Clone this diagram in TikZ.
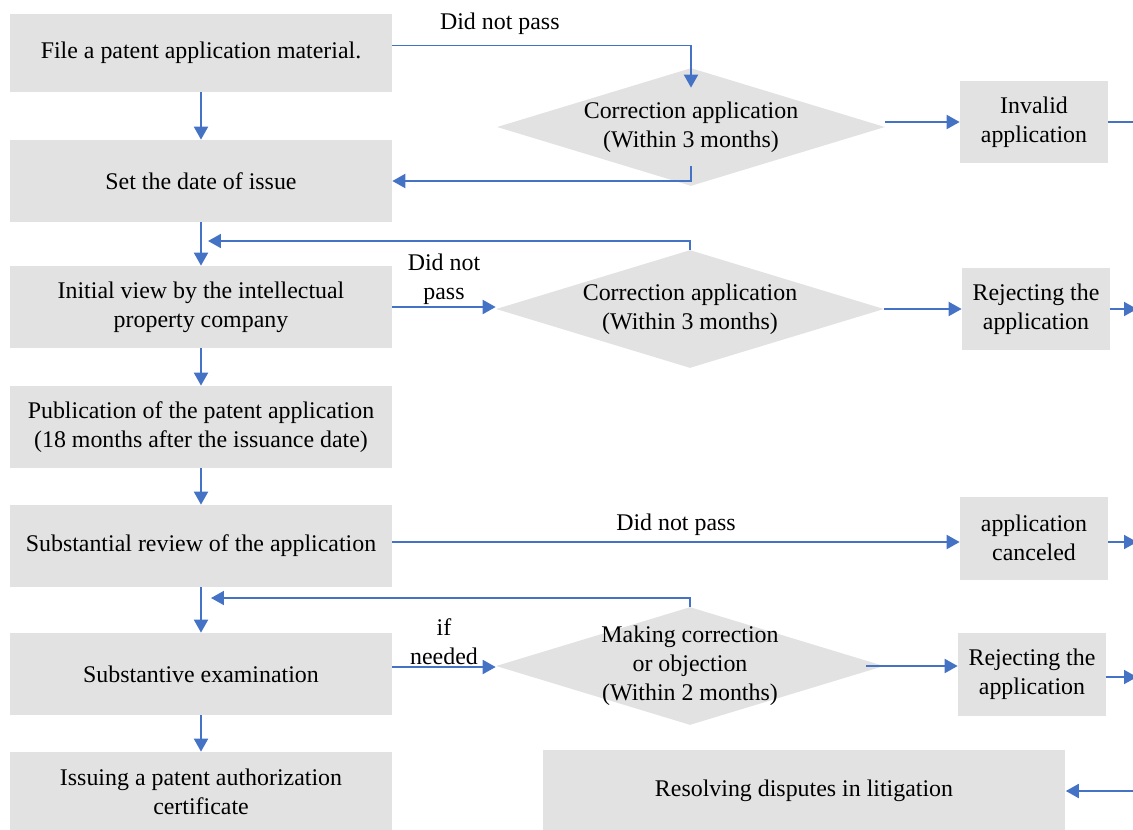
\documentclass[tikz,border=0pt]{standalone}
\usepackage{fontspec}
\setmainfont{Liberation Serif}
\usetikzlibrary{shapes.geometric,arrows.meta}
\definecolor{boxgray}{HTML}{E2E2E2}
\definecolor{flowblue}{HTML}{4472C4}

\begin{document}
\begin{tikzpicture}[x=0.02cm,y=-0.02cm,
    font=\fontsize{13.6}{16.4}\selectfont,
    box/.style={fill=boxgray,align=center,inner sep=0pt,minimum width=7.64cm,minimum height=1.64cm},
    sidebox/.style={fill=boxgray,align=center,inner sep=0pt,minimum width=2.96cm,minimum height=1.66cm},
    dia/.style={diamond,fill=boxgray,align=center,inner sep=0pt,aspect=3.3,minimum width=7.76cm,minimum height=2.36cm},
    flow/.style={draw=flowblue,line width=1.1pt,-{Triangle[length=2.6mm,width=2.8mm]}}]
        \useasboundingbox (0,0) rectangle (1133,829);

        % main column
        \node[box,minimum height=1.56cm] (file) at (201,53) {File a patent application material.};
        \node[box] (date) at (201,181) {Set the date of issue};
        \node[box] (initial) at (201,307) {Initial view by the intellectual\\property company};
        \node[box] (publish) at (201,427) {Publication of the patent application\\(18 months after the issuance date)};
        \node[box] (review) at (201,546) {Substantial review of the application};
        \node[box] (exam) at (201,674) {Substantive examination};
        \node[box,minimum height=1.6cm] (issue) at (201,792) {Issuing a patent authorization\\certificate};

        % corrections
        \node[dia] (corr1) at (691,127) {Correction application\\(Within 3 months)};
        \node[dia] (corr2) at (690,309) {Correction application\\(Within 3 months)};
        \node[dia,inner ysep=-0.35cm] (corr3) at (690,666) {Making correction\\or objection\\(Within 2 months)};

        % outcomes
        \node[sidebox] (invalid) at (1034,122) {Invalid\\application};
        \node[sidebox] (reject1) at (1036,309) {Rejecting the\\application};
        \node[sidebox] (cancel) at (1034,538) {application\\canceled};
        \node[sidebox] (reject2) at (1032,674) {Rejecting the\\application};
        \node[box,minimum width=10.46cm,minimum height=1.66cm] (dispute) at (804,791) {Resolving disputes in litigation};

        \coordinate (back1) at (208,241);
        \coordinate (back2) at (211,598);
        \coordinate (out1) at (1134,122);
        \coordinate (out2) at (1137,309);
        \coordinate (out3) at (1137,542);
        \coordinate (out4) at (1137,677);
        \coordinate (in1) at (1134,791);

        \draw[flow] (file) -- (date);
        \draw[flow] (date) -- (initial);
        \draw[flow] (initial) -- (publish);
        \draw[flow] (publish) -- (review);
        \draw[flow] (review) -- (exam);
        \draw[flow] (exam) -- (issue);

        \draw[flow] ([yshift=0.15cm]file.east) -| ([yshift=-0.4cm]corr1.north)
            node[pos=0.18,above,yshift=0.08cm] {Did not pass};
        \draw[flow] ([yshift=0.4cm]corr1.south) |- (date.east);
        \draw[flow] ([yshift=0.1cm]corr1.east) -- ([yshift=0.1cm]corr1.east -| invalid.west);
        \draw[draw=flowblue,line width=1.1pt] (invalid.east) -- (out1);

        \draw[flow] (initial.east) -- (initial.east -| corr2.west)
            node[midway,above,inner sep=1pt,align=center] {Did not\\pass};
        \draw[flow] (corr2.north) |- (back1);
        \draw[flow] (corr2.east) -- (corr2.east -| reject1.west);
        \draw[flow] (reject1.east) -- (out2);

        \draw[flow] ([yshift=0.08cm]review.east) -- ([yshift=0.08cm]review.east -| cancel.west)
            node[midway,above] {Did not pass};
        \draw[flow] (cancel.east |- out3) -- (out3);

        \draw[flow] ([yshift=0.14cm]exam.east) -- ([yshift=0.14cm]exam.east -| corr3.west)
            node[midway,above,inner sep=1pt,align=center] {if\\needed};
        \draw[flow] (corr3.north) |- (back2);
        \draw[flow] ([xshift=-0.36cm]corr3.east) -- (corr3.east -| reject2.west);
        \draw[flow] (reject2.east |- out4) -- (out4);

        \draw[flow] (in1) -- (dispute.east);
\end{tikzpicture}
\end{document}
